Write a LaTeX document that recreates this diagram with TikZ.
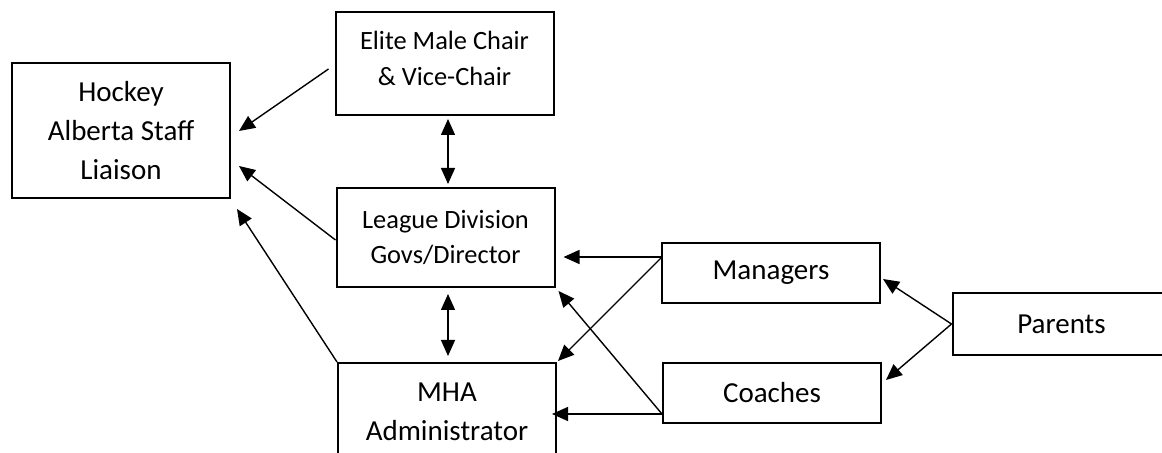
\documentclass[tikz,border=0pt]{standalone}
\usepackage{fontspec}
\setmainfont{Carlito}
\usepackage{tikz}
\usetikzlibrary{arrows.meta,calc}

\begin{document}
\begin{tikzpicture}[x=0.5pt,y=-0.5pt,
    box/.style={draw,line width=1pt,rectangle,inner sep=0pt,align=center,
      minimum width=109pt,font=\fontsize{14.5}{19.3}\selectfont},
    smallbox/.style={box,font=\fontsize{13.2}{17.8}\selectfont},
    arr/.style={-{Triangle[length=8pt,width=7pt]},line width=0.7pt},
    darr/.style={{Triangle[length=8pt,width=7pt]}-{Triangle[length=8pt,width=7pt]},line width=0.7pt}]
      \useasboundingbox (0,0) rectangle (1162,453);
      \clip (0,0) rectangle (1162,453);
      \def\boxes{
        \node [box,minimum height=67.5pt] (hockey) at (121,130.5) {Hockey\\Alberta Staff\\Liaison};
        \node [smallbox,minimum height=51.5pt] (elite) at (444.5,63.5) {Elite Male Chair\\\& Vice-Chair\rule[-5pt]{0pt}{5pt}};
        \node [smallbox,minimum height=49.5pt] (league) at (445.5,237.5) {League Division\\Govs/Director};
        \node [box,minimum height=49pt] (mha) at (447,412) {MHA\\Administrator};
        \node [box,minimum height=30pt] (managers) at (771,273) {Managers};
        \node [box,minimum height=30pt] (coaches) at (772,393) {Coaches};
        \node [box,minimum height=31pt] (parents) at (1061.5,324) {Parents};
      }
      \def\outPoints{
        \coordinate (mout) at ($ (managers.north west)+(1,15) $);
        \coordinate (cout) at ($ (coaches.south west)+(0,-10) $);
      }
      \def\showArrows{
        % Up to the staff liaison
        \draw [arr] ($ (elite.west)+(-6,5.5) $) -- ($ (hockey.east)+(8,0.5) $);
        \draw [arr] ($ (league.west)+(0,2.5) $) -- ($ (hockey.south east)+(8,-33) $);
        \draw [arr] (mha.north west) -- ($ (hockey.south east)+(6,10) $);
        % Both ways in the middle column
        \draw [darr] ($ (elite.south)+(3.5,3) $) -- ($ (league.north)+(2.5,-3) $);
        \draw [darr] ($ (league.south)+(2.5,6) $) -- ($ (mha.north)+(1,-6) $);
        % Managers and coaches
        \draw [arr] (mout) -- ($ (league.east |- mout)+(8,0) $);
        \draw [arr] (mout) -- ($ (mha.north east)+(1,-1) $);
        \draw [arr] (cout) -- ($ (league.south east)+(3,3) $);
        \draw [arr] (cout) -- ($ (mha.east |- cout)+(-5,0) $);
        % Parents
        \draw [arr] (parents.west) -- ($ (managers.east)+(2,6) $);
        \draw [arr] (parents.west) -- ($ (coaches.east)+(4,-13) $);
      }
      \boxes
      \outPoints
      \showArrows
    \end{tikzpicture}
\end{document}
